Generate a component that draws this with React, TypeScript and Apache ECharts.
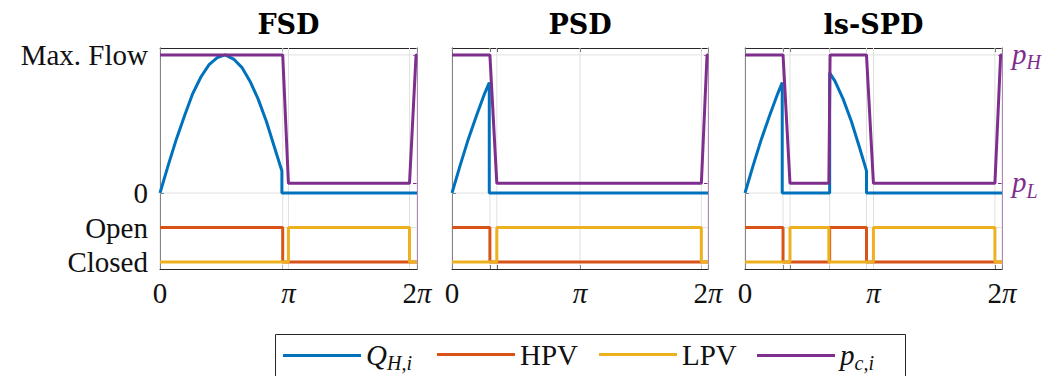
import React, { useEffect, useRef } from "react";
import * as echarts from "echarts";

// ---------- data ----------
const PANEL_TITLES = ["FSD", "PSD", "ls-SPD"];
const SERIES_NAMES = ["Q_H,i", "HPV", "LPV", "p_c,i"];
const SERIES_COLORS = ["#0072BD", "#D95319", "#EDB120", "#7E2F8E"];
const LEGEND_LABELS = ["{i|Q}{s|H,i}", "HPV", "LPV", "{i|p}{s|c,i}"];

const PI = 3.1416;
const TWO_PI = 6.2832;

const X_LABEL_VALUES = [0, PI, TWO_PI];
const X_LABELS = ["{n|0}", "{i|π}", "{n|2}{i|π}"];

const Y_TICKS = [-0.5, -0.25, 0, 1];
const Y_TICK_LABELS = ["Closed", "Open", "0", "Max. Flow"];
const P_TICKS = [0.07, 1];
const P_TICK_LABELS = ["{i|p}{s|L}", "{i|p}{s|H}"];

// x ticks / vertical grid lines (rad)
const FSD_TICKS = [0, 3.0, PI, 6.1, TWO_PI];
const PSD_TICKS = [0, 0.93, 1.1, PI, 6.12, TWO_PI];
const SPD_TICKS = [0, 0.93, 1.1, 2.07, 2.97, PI, 6.11, TWO_PI];

// FSD
const FSD_Q = [[0, 0], [0.2, 0.2], [0.4, 0.39], [0.6, 0.56], [0.8, 0.72], [1.0, 0.84], [1.2, 0.93], [1.4, 0.98], [1.59, 1.0], [1.8, 0.97], [2.0, 0.91], [2.2, 0.81], [2.4, 0.68], [2.6, 0.52], [2.8, 0.33], [2.98, 0.16], [2.98, 0], [TWO_PI, 0]];
const FSD_HPV = [[0, -0.25], [3.0, -0.25], [3.0, -0.5], [TWO_PI, -0.5]];
const FSD_LPV = [[0, -0.5], [3.14, -0.5], [3.14, -0.25], [6.1, -0.25], [6.1, -0.5], [TWO_PI, -0.5]];
const FSD_P = [[0, 1], [3.0, 1], [3.14, 0.07], [6.1, 0.07], [6.26, 1], [TWO_PI, 1]];

// PSD
const PSD_Q = [[0, 0], [0.2, 0.2], [0.4, 0.39], [0.6, 0.56], [0.8, 0.72], [0.915, 0.8], [0.915, 0], [TWO_PI, 0]];
const PSD_HPV = [[0, -0.25], [0.93, -0.25], [0.93, -0.5], [TWO_PI, -0.5]];
const PSD_LPV = [[0, -0.5], [1.1, -0.5], [1.1, -0.25], [6.12, -0.25], [6.12, -0.5], [TWO_PI, -0.5]];
const PSD_P = [[0, 1], [0.93, 1], [1.1, 0.07], [6.12, 0.07], [6.26, 1], [TWO_PI, 1]];

// ls-SPD
const SPD_Q = [[0, 0], [0.2, 0.2], [0.4, 0.39], [0.6, 0.56], [0.8, 0.72], [0.91, 0.8], [0.91, 0], [2.07, 0], [2.07, 0.87], [2.2, 0.81], [2.4, 0.68], [2.6, 0.52], [2.8, 0.33], [2.97, 0.16], [2.97, 0], [TWO_PI, 0]];
const SPD_HPV = [[0, -0.25], [0.93, -0.25], [0.93, -0.5], [2.07, -0.5], [2.07, -0.25], [2.97, -0.25], [2.97, -0.5], [TWO_PI, -0.5]];
const SPD_LPV = [[0, -0.5], [1.1, -0.5], [1.1, -0.25], [2.05, -0.25], [2.05, -0.5], [3.14, -0.5], [3.14, -0.25], [6.11, -0.25], [6.11, -0.5], [TWO_PI, -0.5]];
const SPD_P = [[0, 1], [0.93, 1], [1.1, 0.07], [2.05, 0.07], [2.08, 1], [2.97, 1], [3.14, 0.07], [6.11, 0.07], [6.25, 1], [TWO_PI, 1]];

const PANEL_DATA = [
  [FSD_Q, FSD_HPV, FSD_LPV, FSD_P],
  [PSD_Q, PSD_HPV, PSD_LPV, PSD_P],
  [SPD_Q, SPD_HPV, SPD_LPV, SPD_P],
];
const PANEL_TICKS = [FSD_TICKS, PSD_TICKS, SPD_TICKS];

// ---------- layout / style ----------
const FONT = "Liberation Serif";
const TITLE_FONT = "DejaVu Serif";
const FS = 29;
const AXIS_COLOR = "#262626";
const TEXT_COLOR = "#111111";
const GRID_COLOR = "#e1e1e1";
const GRID_LEFT = [160, 452, 745];
const GRID_WIDTH = [257, 256, 257];
const GRID_TOP = 48;
const GRID_HEIGHT = 221;
const Y_MIN = -0.55;
const Y_MAX = 1.05;
const LEGEND_LEFT = [283, 437, 599, 757];
const LEGEND_TOP = 340;

function rich(color: string) {
  return {
    n: { fontFamily: FONT, fontSize: FS, lineHeight: 31, verticalAlign: "top", color },
    i: { fontFamily: FONT, fontSize: FS, lineHeight: 31, verticalAlign: "top", fontStyle: "italic", color },
    s: { fontFamily: FONT, fontSize: 20, lineHeight: 19, verticalAlign: "top", fontStyle: "italic", padding: [13, 0, 0, 0], color },
  };
}

function lookup(values: number[], labels: string[]) {
  return (v: number) => {
    const k = values.findIndex((x) => Math.abs(x - v) < 1e-6);
    return k >= 0 ? labels[k] : "";
  };
}

function buildOption() {
  const grid: any[] = [];
  const xAxis: any[] = [];
  const yAxis: any[] = [];
  const series: any[] = [];

  for (let i = 0; i < 3; i++) {
    grid.push({ left: GRID_LEFT[i], top: GRID_TOP, width: GRID_WIDTH[i], height: GRID_HEIGHT, containLabel: false });
    const ticks = PANEL_TICKS[i];
    const tickStyle = { show: true, inside: true, length: 4, lineStyle: { color: AXIS_COLOR, width: 1 }, customValues: ticks };
    xAxis.push({
      type: "value", gridIndex: i, position: "bottom", min: 0, max: TWO_PI,
      axisLine: { show: true, onZero: false, lineStyle: { color: AXIS_COLOR, width: 1 } },
      axisTick: tickStyle,
      splitLine: { show: false },
      axisLabel: {
        show: true, customValues: X_LABEL_VALUES, margin: 9,
        formatter: lookup(X_LABEL_VALUES, X_LABELS),
        fontFamily: FONT, fontSize: FS, color: TEXT_COLOR,
        rich: rich(TEXT_COLOR),
      },
    });
    xAxis.push({
      type: "value", gridIndex: i, position: "top", min: 0, max: TWO_PI,
      axisLine: { show: true, onZero: false, lineStyle: { color: AXIS_COLOR, width: 1 } },
      axisTick: tickStyle,
      splitLine: { show: false },
      axisLabel: { show: false },
    });
    yAxis.push({
      type: "value", gridIndex: i, position: "left", min: Y_MIN, max: Y_MAX,
      axisLine: { show: true, onZero: false, lineStyle: { color: AXIS_COLOR, width: 1 } },
      axisTick: { show: true, inside: true, length: 4, lineStyle: { color: AXIS_COLOR, width: 1 }, customValues: Y_TICKS },
      splitLine: { show: false },
      axisLabel: {
        show: i === 0, customValues: Y_TICKS, margin: 12,
        formatter: lookup(Y_TICKS, Y_TICK_LABELS),
        fontFamily: FONT, fontSize: FS, color: TEXT_COLOR,
      },
    });
    yAxis.push({
      type: "value", gridIndex: i, position: "right", min: Y_MIN, max: Y_MAX,
      axisLine: { show: true, onZero: false, lineStyle: { color: SERIES_COLORS[3], width: 1 } },
      axisTick: { show: true, inside: true, length: 4, lineStyle: { color: SERIES_COLORS[3], width: 1 }, customValues: P_TICKS },
      splitLine: { show: false },
      axisLabel: {
        show: i === 2, customValues: P_TICKS, margin: 10,
        formatter: lookup(P_TICKS, P_TICK_LABELS),
        fontFamily: FONT, fontSize: FS, color: SERIES_COLORS[3],
        rich: rich(SERIES_COLORS[3]),
      },
    });

    series.push({
      type: "custom", xAxisIndex: 2 * i, yAxisIndex: 2 * i, z: 1, silent: true,
      data: ticks.map((v) => [v, 0]),
      renderItem: (_p: any, api: any) => {
        const v = api.value(0);
        const a = api.coord([v, Y_MIN]);
        const b = api.coord([v, Y_MAX]);
        return { type: "line", shape: { x1: a[0], y1: a[1], x2: b[0], y2: b[1] }, style: { stroke: GRID_COLOR, lineWidth: 1 } };
      },
    });
    series.push({
      type: "custom", xAxisIndex: 2 * i, yAxisIndex: 2 * i, z: 1, silent: true,
      data: Y_TICKS.map((v) => [0, v]),
      renderItem: (_p: any, api: any) => {
        const v = api.value(1);
        const a = api.coord([0, v]);
        const b = api.coord([TWO_PI, v]);
        return { type: "line", shape: { x1: a[0], y1: a[1], x2: b[0], y2: b[1] }, style: { stroke: GRID_COLOR, lineWidth: 1 } };
      },
    });

    PANEL_DATA[i].forEach((d, k) => {
      series.push({
        type: "line", name: SERIES_NAMES[k], xAxisIndex: 2 * i, yAxisIndex: k === 3 ? 2 * i + 1 : 2 * i,
        data: d, showSymbol: false, symbol: "none", z: 2 + k * 0.1,
        color: SERIES_COLORS[k],
        lineStyle: { color: SERIES_COLORS[k], width: 3 },
        emphasis: { disabled: true },
      });
    });
  }

  const legend = SERIES_NAMES.map((name, k) => ({
    data: [name], left: LEGEND_LEFT[k], top: LEGEND_TOP, padding: 0, itemGap: 0,
    itemWidth: 78, itemHeight: 3, icon: "rect", selectedMode: false,
    itemStyle: { borderWidth: 0 },
    formatter: () => LEGEND_LABELS[k],
    textStyle: { fontFamily: FONT, fontSize: FS, color: TEXT_COLOR, rich: rich(TEXT_COLOR) },
  }));

  const graphic: any[] = [
    { type: "rect", z: 0, shape: { x: 275.5, y: 334.5, width: 630, height: 60 }, style: { fill: "#ffffff", stroke: AXIS_COLOR, lineWidth: 1 } },
    ...PANEL_TITLES.map((t, i) => ({
      type: "text", z: 10, x: GRID_LEFT[i] + GRID_WIDTH[i] / 2, y: 24,
      style: { text: t, fontFamily: TITLE_FONT, fontSize: 27, fontWeight: "bold", fill: "#000", align: "center", verticalAlign: "middle" },
    })),
  ];

  return { animation: false, backgroundColor: "#ffffff", grid, xAxis, yAxis, series, legend, graphic };
}

export default function App() {
  const ref = useRef<HTMLDivElement>(null);
  useEffect(() => {
    if (!ref.current) return;
    const chart = echarts.init(ref.current, undefined, { renderer: "svg" });
    chart.setOption(buildOption() as any);
    return () => chart.dispose();
  }, []);
  return <div ref={ref} style={{ position: "fixed", left: 0, top: 0, width: 1060, height: 376, background: "#fff" }} />;
}
